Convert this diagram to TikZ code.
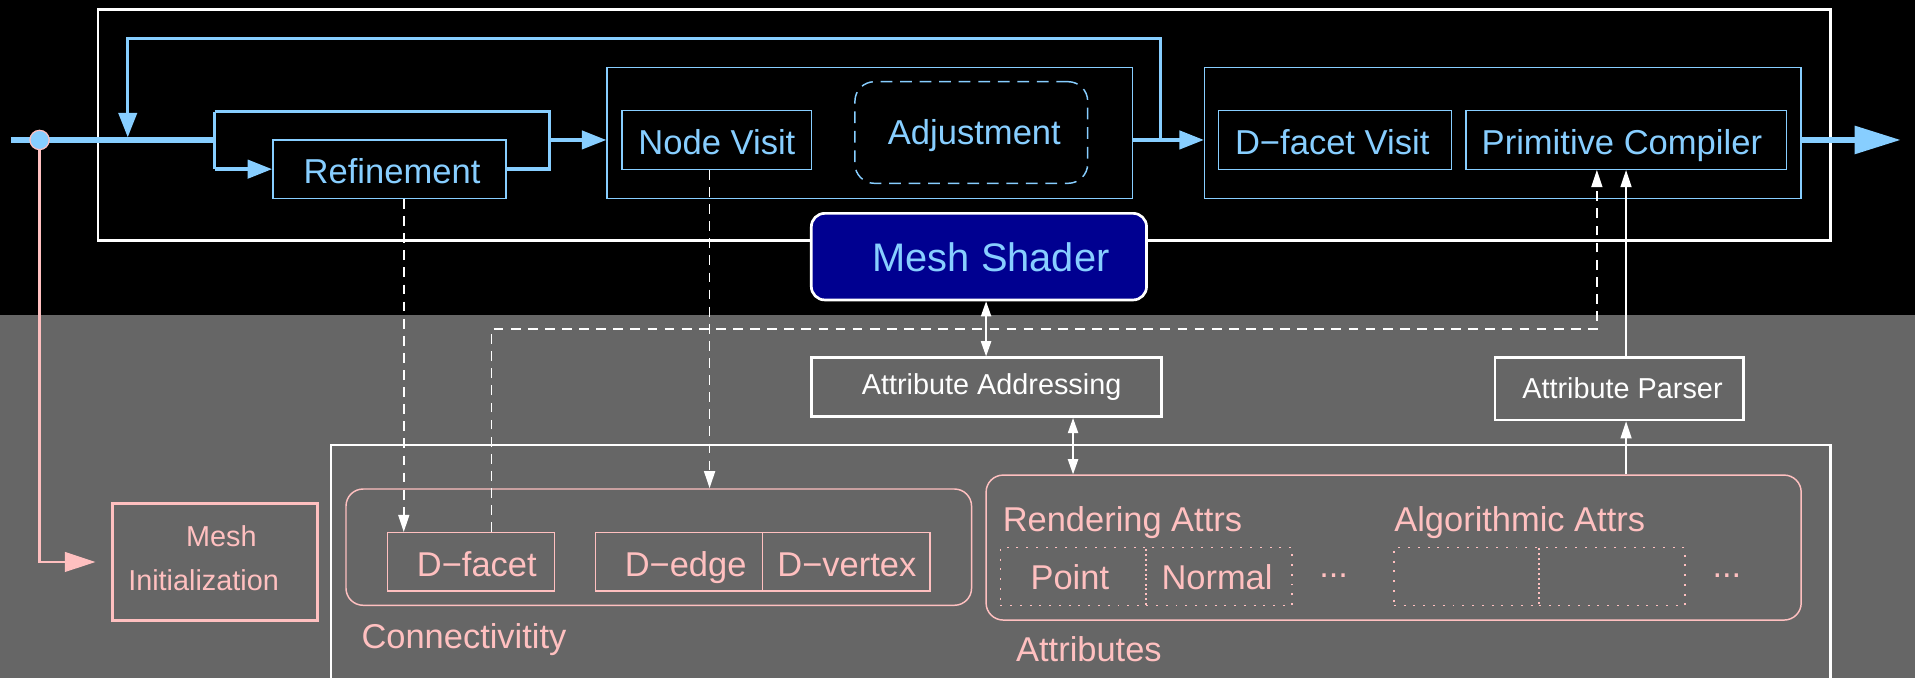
\documentclass[tikz,border=0pt]{standalone}
\usepackage{fontspec}
\setmainfont{Liberation Sans}
\usetikzlibrary{arrows.meta,fit,calc}
\definecolor{lblue}{HTML}{87CEFF}
\definecolor{lpink}{HTML}{FFC0C0}
\definecolor{bgray}{HTML}{666666}
\definecolor{dblue}{HTML}{000090}
\begin{document}
\begin{tikzpicture}[x=0.5pt,y=-0.5pt,
  blbox/.style={draw=lblue,line width=0.6pt,inner sep=0pt},
  wbox/.style={draw=white,line width=1.1pt,inner sep=0pt},
  pkbox/.style={draw=lpink,line width=0.6pt,inner sep=0pt},
  dotbox/.style={draw=lpink,line width=0.6pt,inner sep=0pt,dash pattern=on 0.8pt off 3.2pt},
  bltext/.style={text=lblue,font=\fontsize{14.15}{17}\selectfont,inner sep=0pt,anchor=base},
  pktext/.style={text=lpink,font=\fontsize{14.1}{17}\selectfont,inner sep=0pt,anchor=base},
  smtext/.style={font=\fontsize{11.8}{14}\selectfont,inner sep=0pt,anchor=base},
  blflow/.style={draw=lblue,line width=1.35pt},
  blarrow/.style={blflow,-{Triangle[length=10pt,width=7.5pt]}},
  warrow/.style={draw=white,line width=0.6pt,-{Triangle[length=7pt,width=4.5pt]}},
  wdarrow/.style={draw=white,line width=0.6pt,{Triangle[length=6.2pt,width=4.2pt]}-{Triangle[length=6.2pt,width=4.2pt]}},
  wdash/.style={dash pattern=on 4pt off 3pt}
]
\useasboundingbox (0,0) rectangle (1568,555);
\clip (0,0) rectangle (1568,555);
\fill[black] (0,0) rectangle (1568,555);
\fill[bgray] (0,257.9) rectangle (1568,555);

% top container
\node[wbox, fit={(80.3,8)(1498.8,197)}] (top) {};

% refinement and groups
\node[blbox, fit={(223.4,114.6)(414.4,162.4)}] (ref) {};
\node[bltext] (ref-t) at (321,150.1) {Refinement};
\node[blbox, fit={(497,55.1)(927.2,162.4)}] (grp2) {};
\node[blbox, fit={(509.4,90.6)(664.6,138.6)}] (nv) {};
\node[bltext] (nv-t) at (587,126.1) {Node Visit};
\node[blbox, dash pattern=on 4.8pt off 3.2pt, rounded corners=8pt, fit={(700,66.9)(890.6,150.1)}] (adj) {};
\node[bltext] (adj-t) at (797.8,118.7) {Adjustment};
\node[blbox, fit={(986.3,55.1)(1474.7,162.4)}] (grp3) {};
\node[blbox, fit={(997.5,90.6)(1188.5,138.6)}] (dfv) {};
\node[bltext] (dfv-t) at (1090.8,126.1) {D−facet Visit};
\node[blbox, fit={(1200.4,90.6)(1462.9,138.6)}] (pc) {};
\node[bltext] (pc-t) at (1328,126.1) {Primitive Compiler};

% flow coordinates
\coordinate (in) at (9,114.6);
\coordinate (sp) at (175.8,114.6);
\coordinate (j1) at (450,114.6);
\coordinate (j2) at (950.2,114.6);
\coordinate (fbtop) at (104.6,31.4);
\coordinate (fb) at (104.6,112.4);
\coordinate (out) at (1556.5,114.6);

% main input line
\draw[draw=lblue,line width=2.2pt] (in) -- (sp);
\draw[blflow] (sp |- 0,91.4) -- (sp |- 0,138.6);
\draw[blflow] (sp |- 0,91.4) -- (j1 |- 0,91.4) -- (j1 |- ref.east) -- (ref.east);
\draw[blarrow] (sp |- ref.west) -- (ref.west);
\draw[blarrow] (j1) -- (j1 -| grp2.west);
\draw[blarrow] (grp2.east |- j2) -- (grp3.west |- j2);
\draw[blarrow] (j2) |- (fbtop) -- (fb);
\draw[draw=lblue,line width=2.6pt,-{Triangle[length=19pt,width=11pt]}] (grp3.east |- out) -- (out);

% input dot and mesh initialization
\node[pkbox, line width=1.1pt, fit={(92.3,412.1)(260,508.2)}] (mi) {};
\node[smtext, text=lpink] (mi-t1) at (181.3,447.6) {Mesh};
\node[smtext, text=lpink] (mi-t2) at (166.7,483.7) {Initialization};
\draw[draw=lpink,line width=0.95pt,shorten >=6.5pt,-{Triangle[length=12.5pt,width=8pt]}] (32.4,114.6) |- (mi.west);
\node[circle, fill=lblue, draw=lpink, line width=0.5pt, minimum size=7.9pt, inner sep=0pt] (dot) at (32.4,114.6) {};

% bottom container
\node[wbox, fit={(271,364.4)(1498.8,565)}] (bot) {};
\node[pkbox, rounded corners=7pt, fit={(283.3,400.4)(795.5,495.6)}] (conn) {};
\node[pktext] (conn-t) at (379.9,530.9) {Connectivitity};
\node[pkbox, fit={(317.3,436.2)(454.2,483.9)}] (df) {};
\node[pktext] (df-t) at (390.4,472.2) {D−facet};
\node[pkbox, fit={(487.8,436.2)(624.5,483.9)}] (de) {};
\node[pktext] (de-t) at (561.4,472.2) {D−edge};
\node[pkbox, fit={(624.5,436.2)(761.5,483.9)}] (dv) {};
\node[pktext] (dv-t) at (693.4,472.2) {D−vertex};

\node[pkbox, rounded corners=7pt, fit={(807.4,389)(1474.8,507.7)}] (attrs) {};
\node[pktext] (attrs-t) at (891.6,541.8) {Attributes};
\node[pktext, anchor=base west] (rend-t) at (820.7,435.3) {Rendering Attrs};
\node[pktext, anchor=base west] (alg-t) at (1141.3,435.3) {Algorithmic Attrs};
\node[dotbox, fit={(819,448.2)(938.5,496)}] (pt) {};
\node[pktext] (pt-t) at (876,483) {Point};
\node[dotbox, fit={(938.5,448.2)(1057.9,496)}] (nm) {};
\node[pktext] (nm-t) at (996.5,483) {Normal};
\node[pktext] (el1) at (1092,473) {...};
\node[dotbox, fit={(1141.3,448.2)(1260,496)}] (al1) {};
\node[dotbox, fit={(1260,448.2)(1379.7,496)}] (al2) {};
\node[pktext] (el2) at (1414,473) {...};

% mesh shader and attribute boxes
\node[wbox, fit={(664.3,292.9)(950.9,341.2)}] (aa) {};
\node[smtext, text=white] (aa-t) at (811.9,323.4) {Attribute Addressing};
\node[wbox, fit={(1224,292.9)(1427.8,343.9)}] (ap) {};
\node[smtext, text=white] (ap-t) at (1328.5,326.2) {Attribute Parser};

% connectors (white)
\coordinate (d1) at (807.4,0);
\coordinate (d2) at (878.6,0);
\coordinate (pl) at (1331.4,0);
\coordinate (dk1) at (402.4,269.4);
\coordinate (dk2) at (1307.5,269.4);
\coordinate (rx) at (330.6,0);
\coordinate (nx) at (581,0);

\draw[warrow, wdash] (ref.south -| rx) -- (df.north -| rx);
\draw[warrow, wdash] (nv.south -| nx) -- (conn.north -| nx);
\draw[warrow, wdash] (df.north -| dk1) -- (dk1) -- (dk2) -- (pc.south -| dk2);
\draw[warrow] (attrs.north -| pl) -- (ap.south -| pl);
\draw[warrow] (ap.north -| pl) -- (pc.south -| pl);

\node[draw=white, line width=1.1pt, fill=dblue, rounded corners=5.5pt, inner sep=0pt, fit={(664.3,174.7)(938.8,245.6)}] (ms) {};
\node[text=lblue, font=\fontsize{16.3}{19}\selectfont, inner sep=0pt, anchor=base] (ms-t) at (811.5,221.9) {Mesh Shader};

\draw[wdarrow] (ms.south -| d1) -- (aa.north -| d1);
\draw[wdarrow] (aa.south -| d2) -- (attrs.north -| d2);
\end{tikzpicture}
\end{document}
